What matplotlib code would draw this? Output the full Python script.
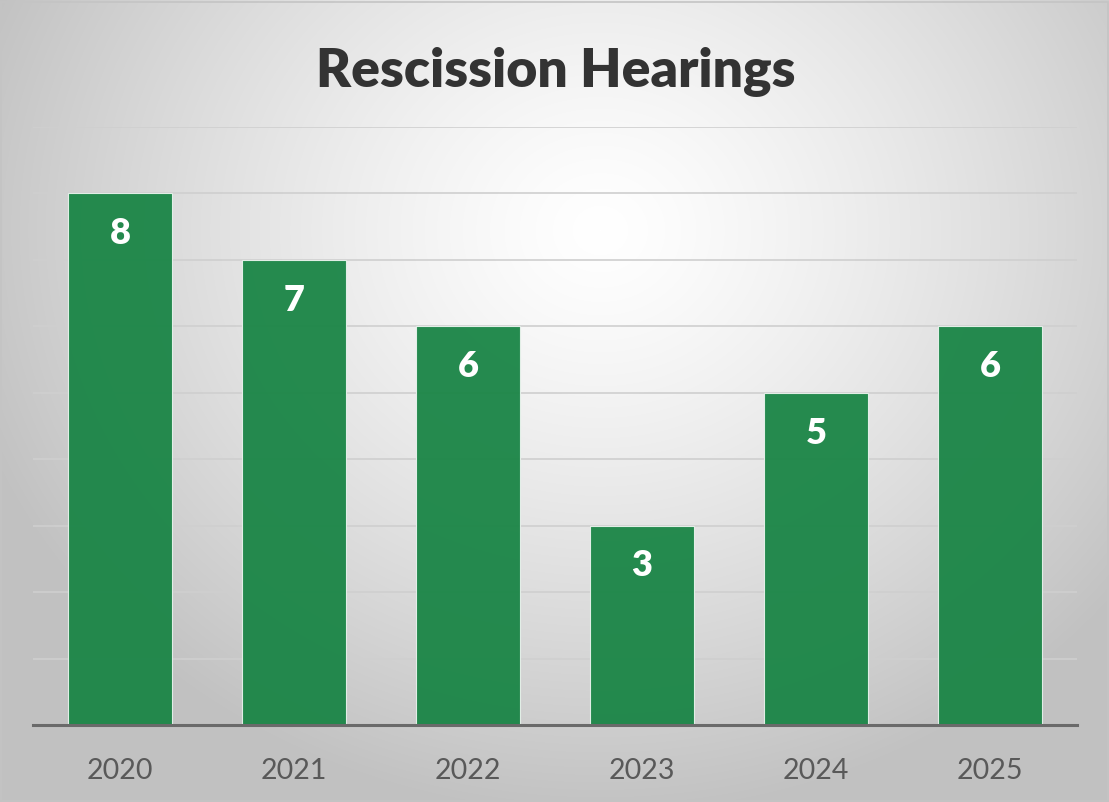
import numpy as np
import matplotlib.pyplot as plt

# data
years = ["2020", "2021", "2022", "2023", "2024", "2025"]
hearings = [8, 7, 6, 3, 5, 6]

W, H = 1109, 802
fig = plt.figure(figsize=(W / 100, H / 100), dpi=100)

# radial gradient background
bg = fig.add_axes([0, 0, 1, 1], zorder=0)
yy, xx = np.mgrid[0:H, 0:W]
r = np.sqrt(((xx - 600) / 700.0) ** 2 + ((yy - 230) / 620.0) ** 2)
shade = np.clip(1.0 - 0.26 * r ** 1.3, 0.76, 1.0)
bg.imshow(np.dstack([shade] * 3), aspect="auto", extent=[0, 1, 0, 1], origin="upper")
bg.add_patch(plt.Rectangle((0.001, 0.001), 0.998, 0.997, fill=False,
                           edgecolor="#c4c4c4", lw=1.2, transform=bg.transAxes))
bg.axis("off")

ax = fig.add_axes([33 / W, 1 - 725 / H, 1044 / W, 598 / H], zorder=1)
ax.patch.set_alpha(0)

x = np.arange(len(years))
bars = ax.bar(x, hearings, width=0.6, color="#1a8546", alpha=0.95,
              edgecolor="#e8f2ec", linewidth=0.8, zorder=2)

for xi, v in zip(x, hearings):
    ax.annotate(str(v), (xi, v), xytext=(0, -29), textcoords="offset points",
                ha="center", va="center", color="white", fontsize=26,
                fontweight="heavy", family="Lato", zorder=3)

ax.set_xlim(-0.5, len(years) - 0.5)
ax.set_ylim(0, 9)
ax.set_yticks(range(1, 10))
ax.yaxis.grid(True, color="#cfcfcf", lw=1.2, zorder=0)
ax.set_axisbelow(True)
ax.tick_params(axis="y", left=False, labelleft=False)
ax.tick_params(axis="x", length=0, pad=24, labelsize=20.5, labelcolor="#595959")
ax.set_xticks(x)
ax.set_xticklabels(years, family="Lato")
for s in ["top", "right", "left"]:
    ax.spines[s].set_visible(False)
ax.spines["bottom"].set_color("#6a6a6a")
ax.spines["bottom"].set_linewidth(2.2)

fig.text(556 / W, 1 - 72 / H, "Rescission Hearings", ha="center", va="center",
         fontsize=38.5, fontweight="heavy", color="#333333", family="Lato")

fig.savefig("out.png", dpi=100)
